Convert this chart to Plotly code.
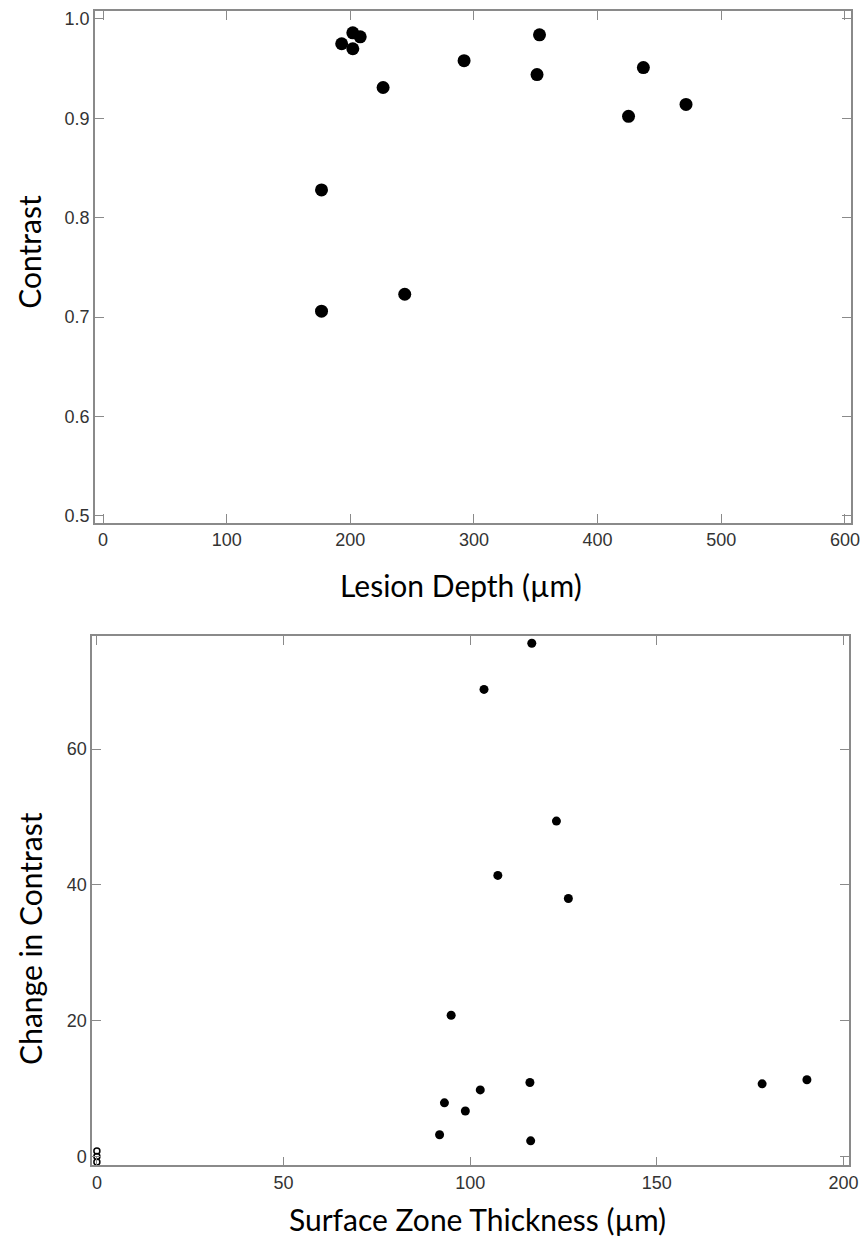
import plotly.graph_objects as go

# ---- Data: top panel (Lesion Depth vs Contrast)
lesion_depth = [193, 202, 208, 202, 226.5, 292, 353, 351, 425, 437, 471.5, 176.7, 176.7, 244]
contrast = [0.975, 0.986, 0.982, 0.970, 0.931, 0.958, 0.984, 0.944, 0.902, 0.951, 0.914, 0.828, 0.706, 0.723]

# ---- Data: bottom panel (Surface Zone Thickness vs Change in Contrast)
sz_thickness = [116.5, 103.7, 123.1, 107.4, 126.3, 94.9, 116, 102.7, 93.1, 98.7, 91.8, 116.2, 178.2, 190.2]
change_contrast = [75.6, 68.8, 49.4, 41.4, 38.0, 20.8, 10.9, 9.8, 7.9, 6.7, 3.2, 2.3, 10.7, 11.3]
zero_thickness = [0, 0, 0]
zero_change = [0.8, 0.0, -0.8]

top_xticks = [0, 100, 200, 300, 400, 500, 600]
top_yticks = [0.5, 0.6, 0.7, 0.8, 0.9, 1.0]
top_ylabels = ["0.5", "0.6", "0.7", "0.8", "0.9", "1.0"]
bot_xticks = [0, 50, 100, 150, 200]
bot_yticks = [0, 20, 40, 60]

W, H = 868, 1241

fig = go.Figure()
fig.add_trace(go.Scatter(x=lesion_depth, y=contrast, mode="markers",
                         marker=dict(color="black", size=13),
                         xaxis="x", yaxis="y", showlegend=False, cliponaxis=False))
fig.add_trace(go.Scatter(x=sz_thickness, y=change_contrast, mode="markers",
                         marker=dict(color="black", size=9),
                         xaxis="x2", yaxis="y2", showlegend=False, cliponaxis=False))
fig.add_trace(go.Scatter(x=zero_thickness, y=zero_change, mode="markers",
                         marker=dict(color="black", size=6, symbol="circle-open",
                                     line=dict(width=1.5, color="black")),
                         xaxis="x2", yaxis="y2", showlegend=False, cliponaxis=False))

axcol = "#8a8a8a"
tickfont = dict(family="Liberation Sans, Arial", size=18, color="#333333")
common = dict(showline=True, linecolor=axcol, linewidth=1.5, mirror="ticks",
              ticks="inside", ticklen=9, tickwidth=1.2, tickcolor=axcol,
              showgrid=False, zeroline=False, tickfont=tickfont)

fig.update_layout(
    width=W, height=H, autosize=False,
    margin=dict(l=0, r=0, t=0, b=0),
    paper_bgcolor="white", plot_bgcolor="white",
    xaxis=dict(domain=[96 / W, 860 / W], range=[-6.5, 605], tickvals=top_xticks,
               anchor="y", **common),
    yaxis=dict(domain=[1 - 523 / H, 1 - 9 / H], range=[0.493, 1.008], tickvals=top_yticks,
               ticktext=top_ylabels, anchor="x", **common),
    xaxis2=dict(domain=[93 / W, 858 / W], range=[-1.3, 201.5], tickvals=bot_xticks,
                anchor="y2", **common),
    yaxis2=dict(domain=[1 - 1168 / H, 1 - 637 / H], range=[-1.3, 76.6], tickvals=bot_yticks,
                anchor="x2", **common),
)

titlefont = dict(family="Lato, Open Sans", size=30, color="black")
def ann(text, xpx, ypx, angle=0):
    fig.add_annotation(text=text, x=xpx / W, y=1 - ypx / H, xref="paper", yref="paper",
                       showarrow=False, textangle=angle, font=titlefont,
                       xanchor="center", yanchor="middle")

ann("Contrast", 29, 251, -90)
ann("Lesion Depth (µm)", 466, 585)
ann("Change in Contrast", 31, 940, -90)
ann("Surface Zone Thickness (µm)", 482, 1222)

fig.write_html(
    "out.html",
    config={"displayModeBar": False, "responsive": False},
    post_script=("document.documentElement.style.overflow='hidden';"
                 "document.body.style.overflow='hidden';"
                 "document.body.style.margin='0';document.body.style.padding='0';"),
)
